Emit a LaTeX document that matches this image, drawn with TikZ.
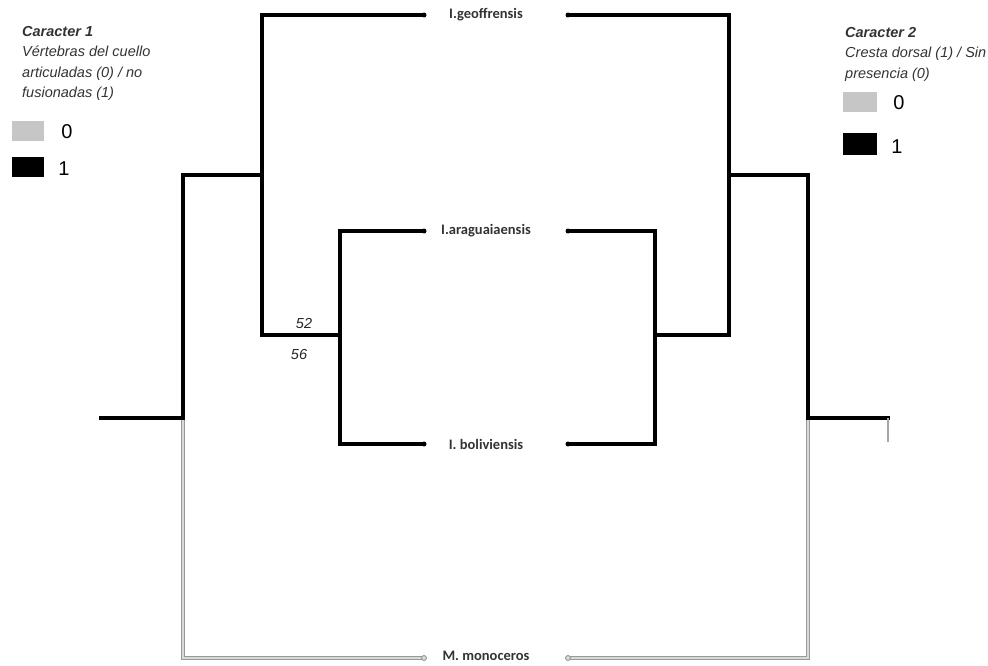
\documentclass[tikz,border=0pt]{standalone}
\usepackage{fontspec}
\setmainfont{Liberation Sans}
\newfontfamily\taxfont{Carlito}
\begin{document}
\begin{tikzpicture}[x=1pt,y=-1pt,
  state1/.style={line width=3.8pt,black,line cap=rect},
  state0/.style={draw=gray!80,double=gray!30,double distance=2.4pt,line width=1.1pt},
  taxon/.style={font=\taxfont\bfseries\fontsize{14.5}{15}\selectfont,text=black!80,inner sep=0pt},
  support/.style={font=\itshape\fontsize{14.5}{16}\selectfont,inner sep=0pt,text=black!85},
  legtext/.style={font=\itshape\fontsize{14.5}{20.5}\selectfont,align=left,inner sep=0pt,anchor=north west,text=black!80},
  legnum/.style={font=\fontsize{20}{22}\selectfont,inner sep=0pt},
  endpt/.style={circle,fill=black,inner sep=0pt,minimum size=5pt},
  endpt0/.style={circle,draw=gray!80,fill=gray!30,line width=0.9pt,inner sep=0pt,minimum size=5pt}]
\useasboundingbox (0,0) rectangle (988,666);

% taxon labels
\node[taxon] (geo) at (486,15) {I.geoffrensis};
\node[taxon] (ara) at (486,231) {I.araguaiaensis};
\node[taxon] (bol) at (486,444) {I. boliviensis};
\node[taxon] (mono) at (486,656) {M. monoceros};

% line ends beside the labels
\coordinate (geoL) at (424,15);
\coordinate (geoR) at (568,15);
\coordinate (araL) at (424,231);
\coordinate (araR) at (568,231);
\coordinate (bolL) at (424,444);
\coordinate (bolR) at (568,444);
\coordinate (monoL) at (424,658);
\coordinate (monoR) at (568,658);

% ---- left tree: character 1 ----
\coordinate (rootL) at (101,418);
\coordinate (aL) at (183,418);
\coordinate (aLtop) at (183,175);
\coordinate (bL) at (262,175);
\coordinate (cL) at (262,335);
\coordinate (dL) at (340,335);

\draw[state0] (aL) -- (183,658) -- (monoL);
\draw[state1] (rootL) -- (aL) -- (aLtop) -- (bL);
\draw[state1] (geoL) -- (262,15) -- (cL) -- (dL);
\draw[state1] (araL) -- (340,231) -- (340,444) -- (bolL);

\node[support] (s52) at (304,324) {52};
\node[support] (s56) at (299,355) {56};

% ---- right tree: character 2 ----
\coordinate (rootR) at (888,418);
\coordinate (aR) at (808,418);
\coordinate (aRtop) at (808,175);
\coordinate (bR) at (729,175);
\coordinate (cR) at (729,335);
\coordinate (dR) at (655,335);

\draw[state0] (aR) -- (808,658) -- (monoR);
\draw[state1] (rootR) -- (aR) -- (aRtop) -- (bR);
\draw[state1] (geoR) -- (729,15) -- (cR) -- (dR);
\draw[state1] (araR) -- (655,231) -- (655,444) -- (bolR);
\draw[gray!70,line width=1.4pt] (rootR) -- (888,442);

% end dots
\foreach \p in {geoL,geoR,araL,araR,bolL,bolR}
  \node[endpt] at (\p) {};
\foreach \p in {monoL,monoR}
  \node[endpt0] at (\p) {};

% ---- legends ----
\node[legtext] (leg1) at (22,26) {\textbf{Caracter 1}\\Vértebras del cuello\\articuladas (0) / no\\fusionadas (1)};
\node[fill=gray!45,minimum width=32pt,minimum height=20pt,inner sep=0pt] (g1) at (28,131) {};
\node[legnum] at (67,132) {0};
\node[fill=black,minimum width=32pt,minimum height=20pt,inner sep=0pt] (k1) at (28,167) {};
\node[legnum] at (64,169) {1};

\node[legtext] (leg2) at (845,27) {\textbf{Caracter 2}\\Cresta dorsal (1) / Sin\\presencia (0)};
\node[fill=gray!45,minimum width=34pt,minimum height=20pt,inner sep=0pt] (g2) at (860,102) {};
\node[legnum] at (899,103) {0};
\node[fill=black,minimum width=34pt,minimum height=22pt,inner sep=0pt] (k2) at (860,144) {};
\node[legnum] at (897,147) {1};
\end{tikzpicture}
\end{document}
